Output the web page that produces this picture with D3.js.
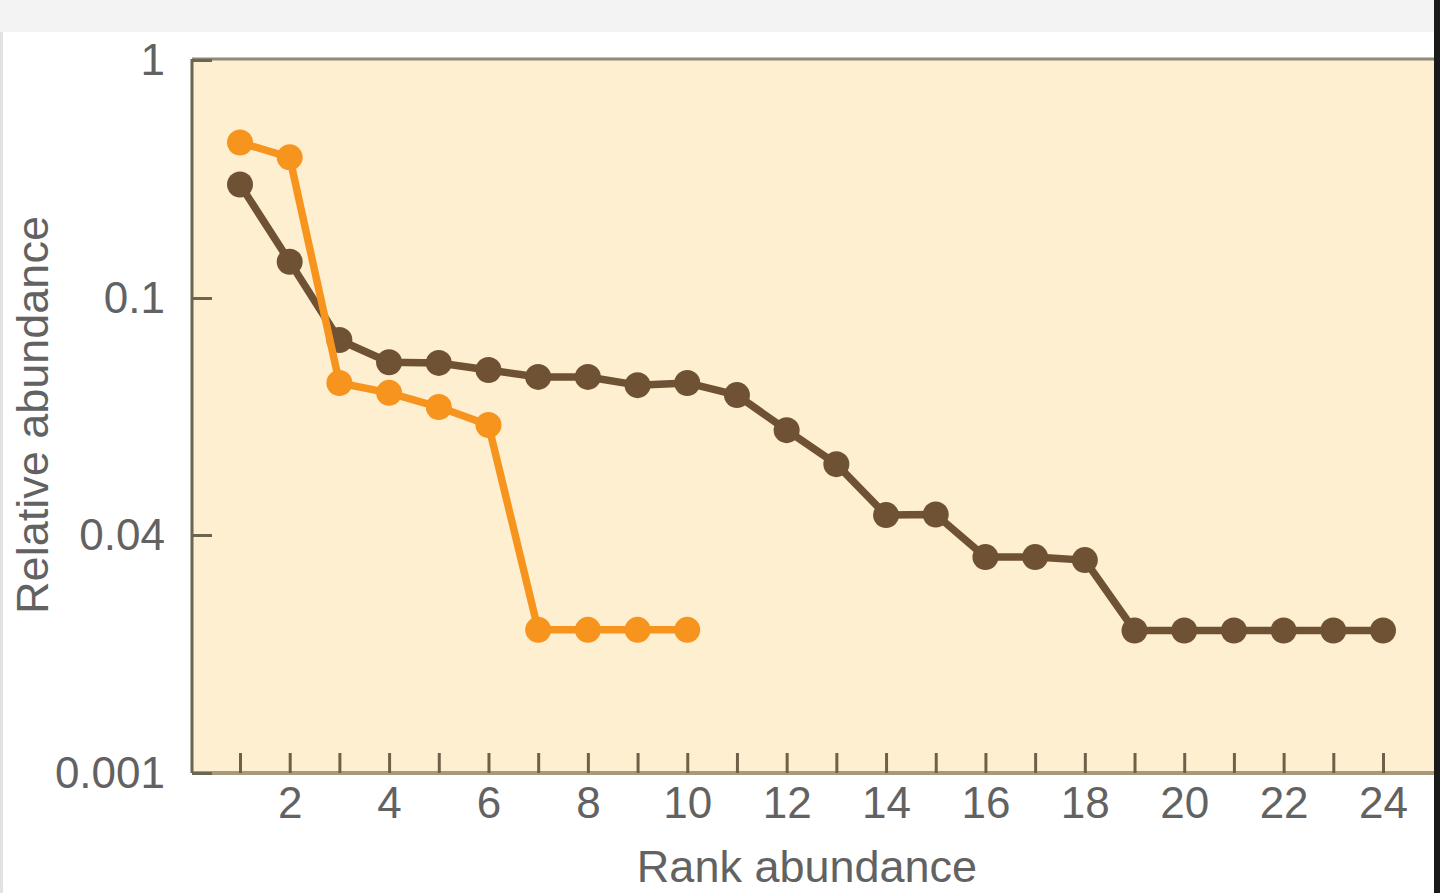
<!DOCTYPE html>
<html>
<head>
<meta charset="utf-8">
<script src="https://cdn.jsdelivr.net/npm/d3@7"></script>
<style>
  html, body { margin: 0; padding: 0; background: #fff; }
  svg { display: block; }
  .tick text { font-family: "Liberation Sans", Arial, sans-serif; fill: #626262; }
</style>
</head>
<body>
<div id="drawarea"></div>
<script>
// ranks and relative abundances
let ranksBrown = d3.range(1, 25);
let valuesBrown = [0.30, 0.142, 0.085, 0.078, 0.0778, 0.0757, 0.0737, 0.0737, 0.0714, 0.072,
    0.0687, 0.060, 0.0526, 0.0432, 0.0433, 0.0284, 0.0284, 0.0271,
    0.0091, 0.0091, 0.0091, 0.0091, 0.0091, 0.0091];
let ranksOrange = d3.range(1, 11);
let valuesOrange = [0.45, 0.39, 0.072, 0.0693, 0.0656, 0.0612, 0.0092, 0.0092, 0.0092, 0.0092];
let yTicks = [0.001, 0.04, 0.1, 1];
let xTicks = d3.range(1, 25);

let svg = d3.select("div#drawarea").append("svg")
    .attr("width", 1440)
    .attr("height", 893);

//light grey strip at the very top and thin edges of the scan
svg.append("rect").attr("x", 0).attr("y", 0).attr("width", 1440).attr("height", 32).attr("fill", "#f3f3f3");
svg.append("rect").attr("x", 0).attr("y", 32).attr("width", 3).attr("height", 861).attr("fill", "#e2e2e2");

let plotLeft = 192, plotRight = 1434, plotTop = 59, plotBottom = 773;

//the plot area background
svg.append("rect")
    .attr("x", plotLeft).attr("y", plotTop)
    .attr("width", plotRight - plotLeft).attr("height", plotBottom - plotTop)
    .attr("fill", "#fdefd0");

let x = d3.scaleLinear().domain([1, 24]).range([240, 1383]);
//broken log axis: each labelled value sits an equal distance apart
let y = d3.scaleLog().domain(yTicks).range([773, 535, 298, 60]);

//frame lines
svg.append("line").attr("x1", plotLeft).attr("x2", plotRight).attr("y1", plotTop).attr("y2", plotTop)
    .attr("stroke", "#8e8a78").attr("stroke-width", 3);
svg.append("rect").attr("x", 1434).attr("y", 0).attr("width", 6).attr("height", 893).attr("fill", "#1a1a1a");

//x axis, ticks pointing up into the plot
let xAxis = svg.append("g")
    .attr("transform", "translate(0," + plotBottom + ")")
    .call(d3.axisBottom(x)
        .tickValues(xTicks)
        .tickSizeInner(-20)
        .tickSizeOuter(0)
        .tickPadding(14)
        .tickFormat(d => d % 2 === 0 ? d : ""));
xAxis.select(".domain").attr("stroke", "#a8987c").attr("stroke-width", 4)
    .attr("d", "M" + plotLeft + ",0H" + plotRight);
xAxis.selectAll(".tick line").attr("stroke", "#6e6148").attr("stroke-width", 3);
xAxis.selectAll(".tick text").attr("font-size", 44);

//y axis
let yAxis = svg.append("g")
    .attr("transform", "translate(" + plotLeft + ",0)")
    .call(d3.axisLeft(y)
        .tickValues(yTicks)
        .tickSizeInner(-20)
        .tickSizeOuter(0)
        .tickPadding(27)
        .tickFormat(d => d + ""));
yAxis.select(".domain").attr("stroke", "#6b6552").attr("stroke-width", 3)
    .attr("d", "M0," + plotTop + "V" + plotBottom);
yAxis.selectAll(".tick line").attr("stroke", "#6b6552").attr("stroke-width", 3);
yAxis.selectAll(".tick text").attr("font-size", 44);

//axis titles
svg.append("text")
    .attr("x", 807).attr("y", 882)
    .attr("text-anchor", "middle")
    .attr("font-family", "Liberation Sans, Arial, sans-serif")
    .attr("font-size", 45)
    .attr("fill", "#626262")
    .text("Rank abundance");

svg.append("text")
    .attr("transform", "translate(48,415) rotate(-90)")
    .attr("text-anchor", "middle")
    .attr("font-family", "Liberation Sans, Arial, sans-serif")
    .attr("font-size", 45)
    .attr("fill", "#626262")
    .text("Relative abundance");

//draw one series: a thick line plus round markers
function drawSeries(ranks, values, colour){
    let pts = ranks.map((r, k) => [r, values[k]]);
    let line = d3.line().x(d => x(d[0])).y(d => y(d[1]));
    svg.append("path")
        .attr("d", line(pts))
        .attr("fill", "none")
        .attr("stroke", colour)
        .attr("stroke-width", 7.5)
        .attr("stroke-linejoin", "round");
    svg.selectAll(null)
        .data(pts)
        .enter()
        .append("circle")
        .attr("cx", d => x(d[0]))
        .attr("cy", d => y(d[1]))
        .attr("r", 13)
        .attr("fill", colour);
}

drawSeries(ranksBrown, valuesBrown, "#6e5233");
drawSeries(ranksOrange, valuesOrange, "#f7941e");
</script>
</body>
</html>
